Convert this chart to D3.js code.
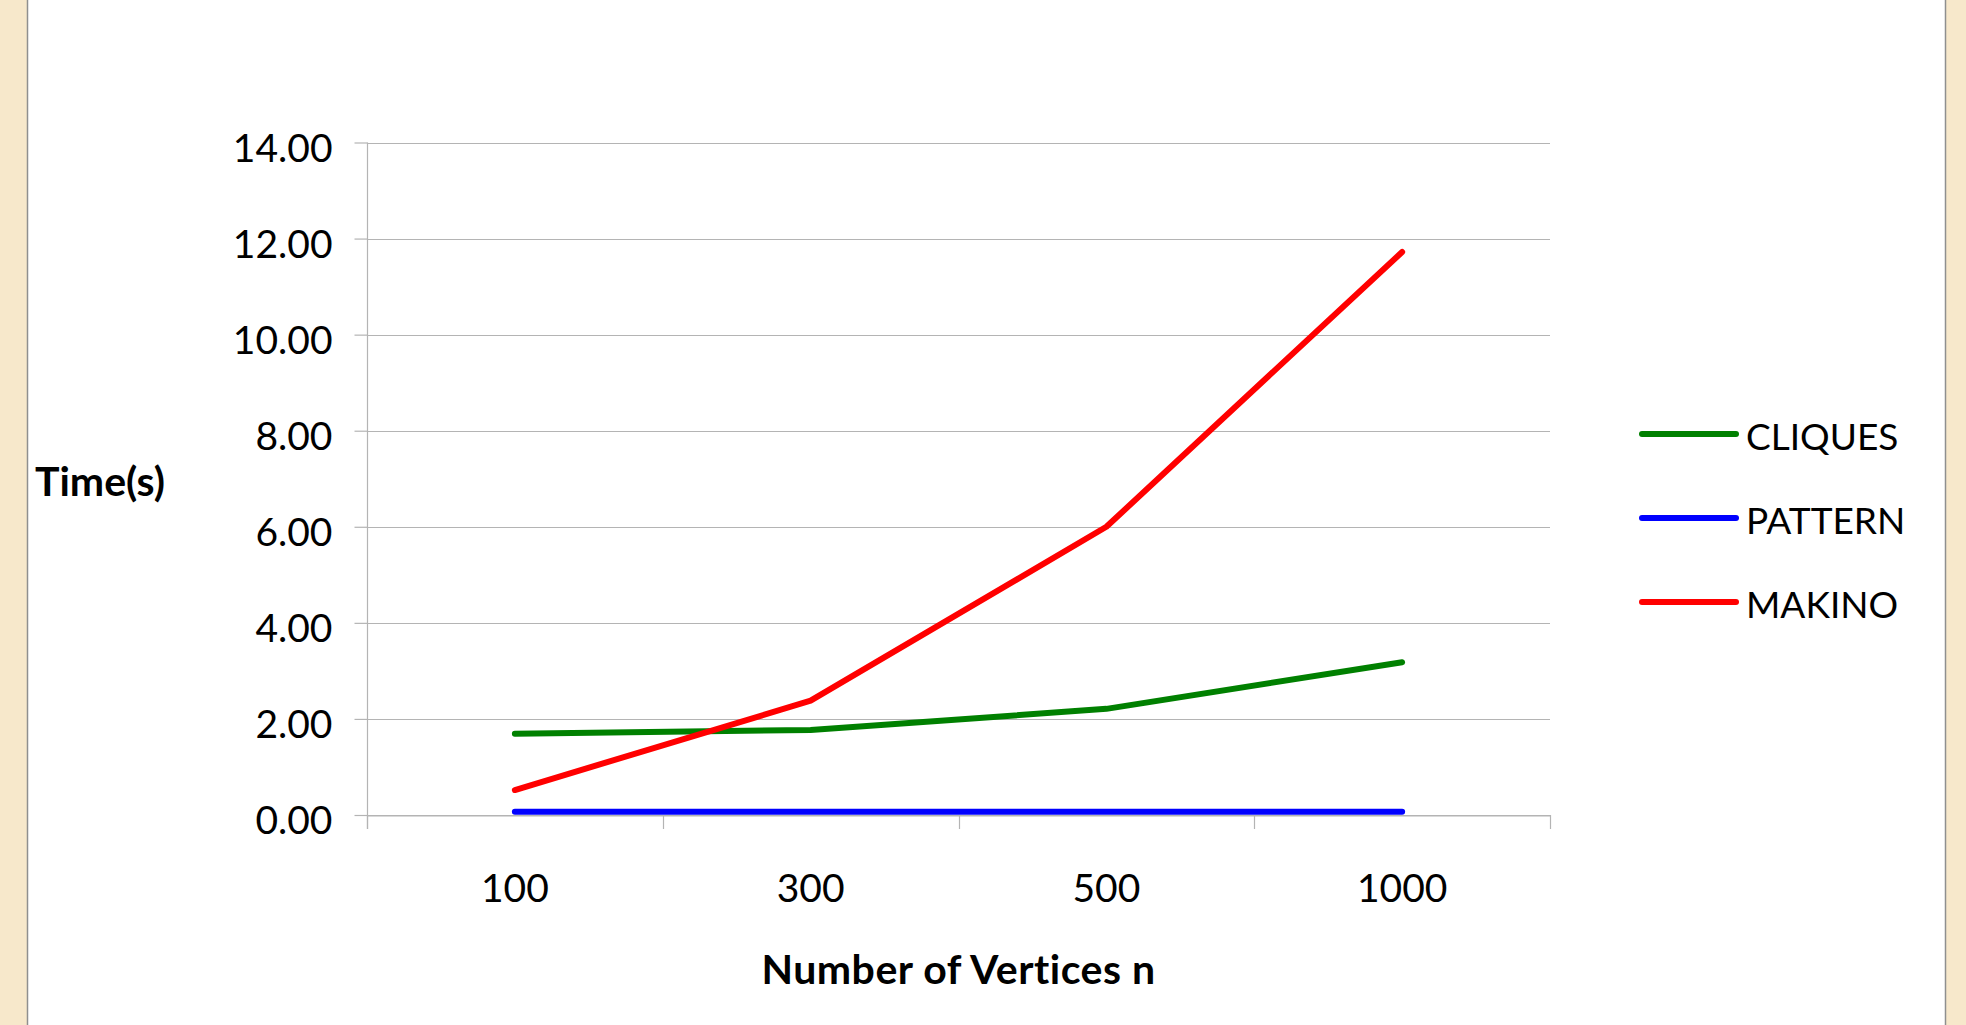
<!DOCTYPE html>
<html>
<head>
<meta charset="utf-8">
<script src="https://cdn.jsdelivr.net/npm/d3@7"></script>
<style>
  html, body { margin: 0; padding: 0; background: #f7e8cb; overflow: hidden; }
  text { font-family: Lato, "Open Sans", sans-serif; fill: #000; }
</style>
</head>
<body>
<div id="root"></div>
<script>
// data
let categories = ["100", "300", "500", "1000"];
let seriesNames = ["CLIQUES", "PATTERN", "MAKINO"];
let cliques = [1.69, 1.77, 2.21, 3.18];
let pattern = [0.07, 0.07, 0.07, 0.07];
let makino = [0.52, 2.38, 6.0, 11.72];
let yTicks = [0, 2, 4, 6, 8, 10, 12, 14];
let colors = ["#008000", "#0000ff", "#ff0000"];

window.onload = function() {
  init();
};

let init = () => {
  let W = 1966, H = 1025;
  let svg = d3
    .select("#root")
    .append("svg")
    .attr("width", W)
    .attr("height", H);

  // white panel over the beige page
  svg.append("rect")
    .attr("x", 27.5).attr("y", -2)
    .attr("width", 1918).attr("height", H + 4)
    .attr("fill", "#fff")
    .attr("stroke", "#8f8f8f")
    .attr("stroke-width", 1.5);

  let x = d3.scaleBand().domain(categories).range([367, 1550]).padding(0);
  let y = d3.scaleLinear().domain([0, 14]).range([815, 142.5]);

  // gridlines
  svg.append("g")
    .selectAll("line")
    .data(yTicks)
    .join("line")
    .attr("x1", 367).attr("x2", 1550)
    .attr("y1", d => Math.round(y(d)) + 0.5)
    .attr("y2", d => Math.round(y(d)) + 0.5)
    .attr("stroke", "#b4b4b4")
    .attr("stroke-width", 1.2);

  // y axis
  let yAxis = d3.axisLeft(y)
    .tickValues(yTicks)
    .tickSize(13)
    .tickPadding(22)
    .tickFormat(d3.format(".2f"));
  let yG = svg.append("g")
    .attr("transform", "translate(367.5,0)")
    .call(yAxis);
  yG.select(".domain").remove();
  yG.selectAll("line").attr("stroke", "#b4b4b4").attr("stroke-width", 1.2);
  yG.selectAll("text")
    .attr("font-size", 39)
    .attr("dy", "0.48em")
    .style("font-family", "Lato, sans-serif");
  svg.append("line")
    .attr("x1", 367.5).attr("x2", 367.5)
    .attr("y1", y(14)).attr("y2", 829)
    .attr("stroke", "#b4b4b4").attr("stroke-width", 1.2);

  // x axis
  let xAxis = d3.axisBottom(x).tickSize(0).tickPadding(59);
  let xG = svg.append("g")
    .attr("transform", "translate(0,815.5)")
    .call(xAxis);
  xG.select(".domain").attr("stroke", "#b4b4b4").attr("stroke-width", 1.2);
  xG.selectAll("text")
    .attr("font-size", 39)
    .style("font-family", "Lato, sans-serif");
  let edges = categories.map(c => x(c)).concat([x(categories[categories.length - 1]) + x.bandwidth()]);
  svg.append("g")
    .selectAll("line")
    .data(edges)
    .join("line")
    .attr("x1", d => Math.round(d) + 0.5).attr("x2", d => Math.round(d) + 0.5)
    .attr("y1", 815).attr("y2", 829)
    .attr("stroke", "#b4b4b4").attr("stroke-width", 1.2);

  // series lines
  let allSeries = [cliques, pattern, makino];
  let line = d3.line()
    .x((d, i) => x(categories[i]) + x.bandwidth() / 2)
    .y(d => y(d));
  svg.append("g")
    .selectAll("path")
    .data(allSeries)
    .join("path")
    .attr("d", line)
    .attr("fill", "none")
    .attr("stroke", (d, i) => colors[i])
    .attr("stroke-width", 6)
    .attr("stroke-linecap", "round")
    .attr("stroke-linejoin", "round");

  // axis titles
  svg.append("text")
    .attr("x", 35).attr("y", 496)
    .attr("font-size", 41)
    .attr("font-weight", "bold")
    .text("Time(s)");
  svg.append("text")
    .attr("x", (367 + 1550) / 2).attr("y", 984)
    .attr("text-anchor", "middle")
    .attr("font-size", 41)
    .attr("font-weight", "bold")
    .attr("letter-spacing", 0.5)
    .text("Number of Vertices n");

  // legend
  let legend = svg.append("g")
    .selectAll("g")
    .data(seriesNames)
    .join("g")
    .attr("transform", (d, i) => `translate(0,${434 + i * 84})`);
  legend.append("line")
    .attr("x1", 1642).attr("x2", 1736)
    .attr("stroke", (d, i) => colors[i])
    .attr("stroke-width", 6)
    .attr("stroke-linecap", "round");
  legend.append("text")
    .attr("x", 1746).attr("y", 16)
    .attr("font-size", 37)
    .text(d => d);
};
</script>
</body>
</html>
